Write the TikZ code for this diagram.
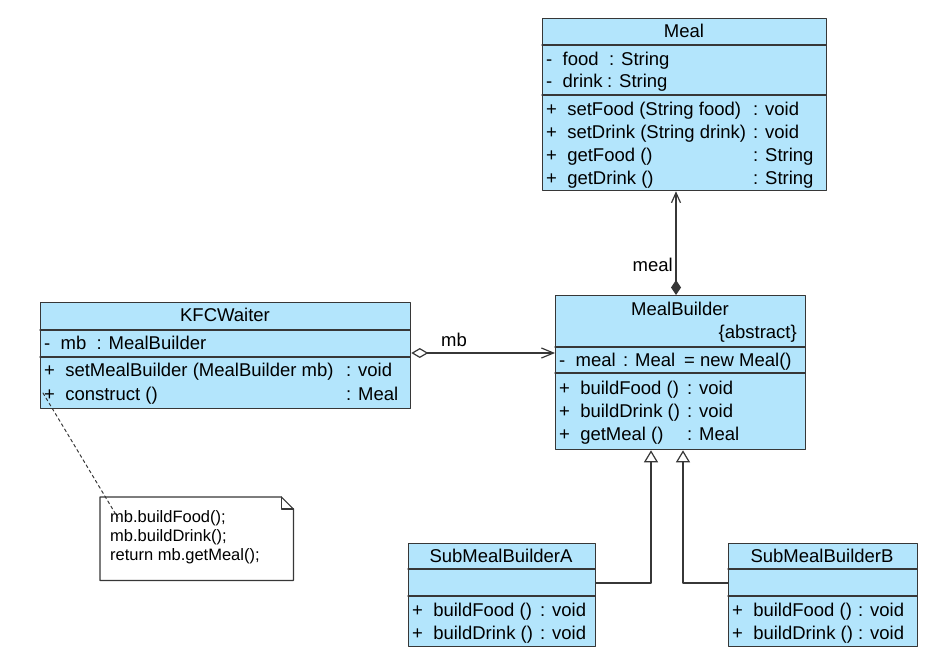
\documentclass[tikz,border=0pt]{standalone}
\usepackage{fontspec}
\setmainfont{Liberation Sans}
\usetikzlibrary{arrows.meta}
\definecolor{clsfill}{RGB}{179,229,252}
\definecolor{clsline}{RGB}{55,55,55}
\tikzstyle{every node}=[font=\fontsize{18.5}{23}\selectfont,inner sep=0pt]
\tikzstyle{clsbox}=[draw=clsline,fill=clsfill,line width=1.3pt,anchor=north west]
\tikzstyle{sep}=[draw=clsline,line width=1.3pt]
\tikzstyle{txt}=[anchor=base west]
\tikzstyle{ttl}=[anchor=base]
\tikzstyle{notetxt}=[anchor=base west,font=\fontsize{16.5}{19}\selectfont]
\tikzstyle{link}=[draw=clsline,line width=1.2pt]

\begin{document}
\begin{tikzpicture}[line cap=round,line join=round,x=1pt,y=-1pt]
\useasboundingbox (0,0) rectangle (939,659);
% classes
\node[clsbox,minimum width=284pt,minimum height=172pt] (meal) at (542,18) {};
\draw[sep] (542,45) -- (826,45);
\draw[sep] (542,95) -- (826,95);
\node[ttl] (mealT) at (684,37) {Meal};
\node[txt] (mealA1) at (546,65) {-\ \ food};
\node[txt] (mealA1t) at (609,65) {: String};
\node[txt] (mealA2) at (546,87) {-\ \ drink};
\node[txt] (mealA2t) at (607,87) {: String};
\node[txt] (mealM1) at (546,115) {+\ \ setFood (String food)};
\node[txt] (mealM1t) at (753,115) {: void};
\node[txt] (mealM2) at (546,138) {+\ \ setDrink (String drink)};
\node[txt] (mealM2t) at (753,138) {: void};
\node[txt] (mealM3) at (546,161) {+\ \ getFood ()};
\node[txt] (mealM3t) at (753,161) {: String};
\node[txt] (mealM4) at (546,184) {+\ \ getDrink ()};
\node[txt] (mealM4t) at (753,184) {: String};

\node[clsbox,minimum width=370pt,minimum height=106pt] (waiter) at (40,302) {};
\draw[sep] (40,330) -- (410,330);
\draw[sep] (40,357) -- (410,357);
\node[ttl] (waiterT) at (225,321) {KFCWaiter};
\node[txt] (waiterA1) at (44,349) {-\ \ mb\ \ : MealBuilder};
\node[txt] (waiterM1) at (44,376) {+\ \ setMealBuilder (MealBuilder mb)};
\node[txt] (waiterM1t) at (346,376) {: void};
\node[txt] (waiterM2) at (44,400) {+\ \ construct ()};
\node[txt] (waiterM2t) at (346,400) {: Meal};

\node[clsbox,minimum width=250pt,minimum height=154pt] (builder) at (555,295) {};
\draw[sep] (555,347) -- (805,347);
\draw[sep] (555,373) -- (805,373);
\node[ttl] (builderT) at (680,315) {MealBuilder};
\node[anchor=base east] (builderS) at (797,338) {\{abstract\}};
\node[txt] (builderA1) at (559,366) {-\ \ meal};
\node[txt] (builderA1t) at (623,366) {: Meal};
\node[txt] (builderA1v) at (684,366) {= new Meal()};
\node[txt] (builderM1) at (559,394) {+\ \ buildFood ()};
\node[txt] (builderM1t) at (687,394) {: void};
\node[txt] (builderM2) at (559,417) {+\ \ buildDrink ()};
\node[txt] (builderM2t) at (687,417) {: void};
\node[txt] (builderM3) at (559,440) {+\ \ getMeal ()};
\node[txt] (builderM3t) at (687,440) {: Meal};

\node[clsbox,minimum width=187pt,minimum height=103pt] (subA) at (408,543) {};
\draw[sep] (408,569) -- (595,569);
\draw[sep] (408,596) -- (595,596);
\node[ttl] (subAT) at (501,562) {SubMealBuilderA};
\node[txt] (subAM1) at (412,616) {+\ \ buildFood ()};
\node[txt] (subAM1t) at (540,616) {: void};
\node[txt] (subAM2) at (412,639) {+\ \ buildDrink ()};
\node[txt] (subAM2t) at (540,639) {: void};

\node[clsbox,minimum width=189pt,minimum height=103pt] (subB) at (728,543) {};
\draw[sep] (728,569) -- (917,569);
\draw[sep] (728,596) -- (917,596);
\node[ttl] (subBT) at (822,562) {SubMealBuilderB};
\node[txt] (subBM1) at (732,616) {+\ \ buildFood ()};
\node[txt] (subBM1t) at (858,616) {: void};
\node[txt] (subBM2) at (732,639) {+\ \ buildDrink ()};
\node[txt] (subBM2t) at (858,639) {: void};

% note
\node[minimum width=193pt,minimum height=83pt,anchor=north west] (note) at (100,497) {};
\draw[link,fill=white] (note.north west) -- ([xshift=-12pt]note.north east) -- ([yshift=-12pt]note.north east) -- (note.south east) -- (note.south west) -- cycle;
\draw[link] ([xshift=-12pt]note.north east) |- ([yshift=-12pt]note.north east);
\node[notetxt] (note1) at (110,522) {mb.buildFood();};
\node[notetxt] (note2) at (110,541) {mb.buildDrink();};
\node[notetxt] (note3) at (110,560) {return mb.getMeal();};

% connectors
\coordinate (mealX) at (676,0);
\coordinate (mbY) at (0,353);
\coordinate (genA) at (651,583);
\coordinate (genB) at (683,583);
\coordinate (noteS) at (43,393);
\coordinate (noteE) at (118,518);
\draw[link,{Diamond[length=15pt,width=10pt]}-{Straight Barb[length=10pt,width=9pt]}] (builder.north -| mealX) -- (meal.south -| mealX);
\node[anchor=base east] (mealL) at (673,271) {meal};
\draw[link,{Diamond[open,fill=white,length=17pt,width=10pt]}-{Straight Barb[length=12pt,width=10pt]}] (waiter.east |- mbY) -- (builder.west |- mbY);
\node[anchor=base west] (mbL) at (441,346) {mb};
\draw[link,-{Triangle[open,fill=white,length=12pt,width=14pt]}] (subA.east |- genA) -| (genA |- builder.south);
\draw[link,-{Triangle[open,fill=white,length=12pt,width=14pt]}] (subB.west |- genB) -| (genB |- builder.south);
\draw[link,line width=1pt,dash pattern=on 3pt off 3pt] (noteS) -- (noteE);
\end{tikzpicture}
\end{document}
